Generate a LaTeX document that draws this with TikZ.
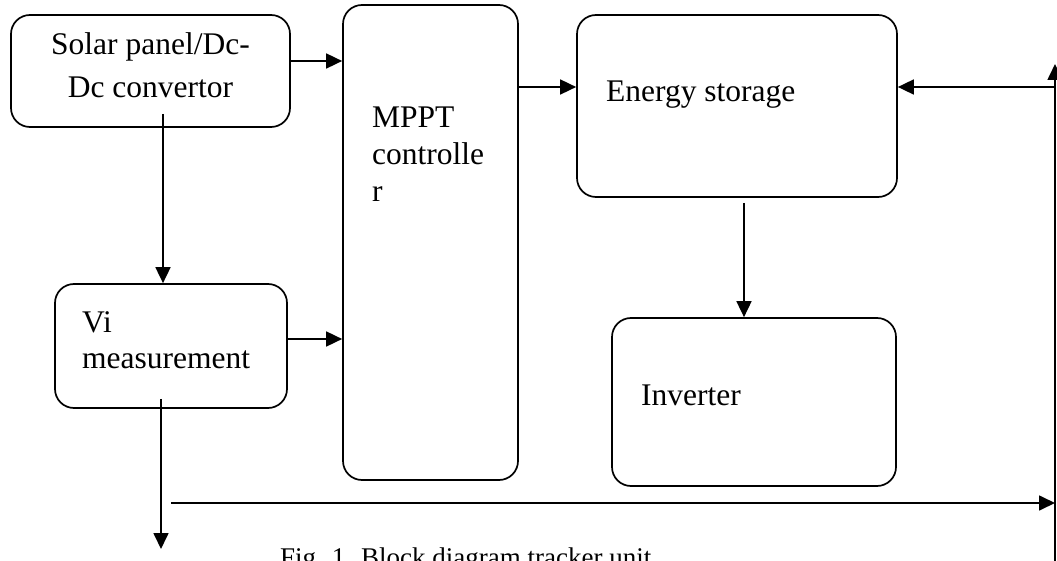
\documentclass[tikz,border=0pt]{standalone}
\usepackage{fontspec}
\setmainfont{Liberation Serif}
\usetikzlibrary{arrows.meta}
\tikzset{
  box/.style={draw, line width=1.7pt, rounded corners=19pt, inner sep=0pt},
  lbl/.style={anchor=base west, inner sep=0pt, font=\fontsize{31.5}{38}\selectfont},
  clbl/.style={anchor=base, inner sep=0pt, font=\fontsize{31.5}{38}\selectfont},
  conn/.style={line width=1.7pt},
  arr/.style={conn, -{Triangle[length=16pt,width=15pt]}}
}
\begin{document}
\begin{tikzpicture}[x=1pt,y=-1pt]
\useasboundingbox (0,0) rectangle (1057,561);
\clip (0,0) rectangle (1057,561);

% blocks
\node[box, minimum width=279pt, minimum height=112pt] (solar) at (150.5,71) {};
\node[box, minimum width=175pt, minimum height=475pt] (mppt) at (430.5,242.5) {};
\node[box, minimum width=320pt, minimum height=182pt] (es) at (737,106) {};
\node[box, minimum width=284pt, minimum height=168pt] (inv) at (754,402) {};
\node[box, minimum width=232pt, minimum height=124pt] (vi) at (171,346) {};

% block texts
\node[clbl] (solarA) at (150.5,55) {Solar panel/Dc-};
\node[clbl] (solarB) at (150.5,98) {Dc convertor};
\node[lbl] (mpptA) at (372,128) {MPPT};
\node[lbl] (mpptB) at (372,165) {controlle};
\node[lbl] (mpptC) at (372,202) {r};
\node[lbl] (esT) at (606,102) {Energy storage};
\node[lbl] (invT) at (641,405) {Inverter};
\node[lbl] (viA) at (82,332) {Vi};
\node[lbl] (viB) at (82,368) {measurement};

% free ends and the feedback bus
\coordinate (down) at (161,549);
\coordinate (busL) at (171,503);
\coordinate (busR) at (1055,503);
\coordinate (riseB) at (1055,575);
\coordinate (riseT) at (1055,64);
\coordinate (busES) at (1055,87);

% connectors
\draw[arr] (solar.east |- 0,61) -- (mppt.west |- 0,61);
\draw[arr] (vi.east |- 0,339) -- (mppt.west |- 0,339);
\draw[arr] (mppt.east |- 0,87) -- (es.west |- 0,87);
\draw[arr] ([xshift=7pt,yshift=-5pt]es.south) -- ([xshift=-10pt]inv.north);
\draw[arr] ([xshift=12.5pt,yshift=14pt]solar.south) -- ([xshift=-8pt]vi.north);
\draw[arr] ([xshift=-10pt,yshift=10pt]vi.south) -- (down);
\draw[arr] (busL) -- (busR);
\draw[arr] (riseB) -- (riseT);
\draw[arr] (busES) -- (es.east |- busES);

% caption, running off the lower edge
\node[anchor=base west, inner sep=0pt, font=\fontsize{27}{32}\selectfont] (cap) at (280,566) {Fig. 1. Block diagram tracker unit};
\end{tikzpicture}
\end{document}
